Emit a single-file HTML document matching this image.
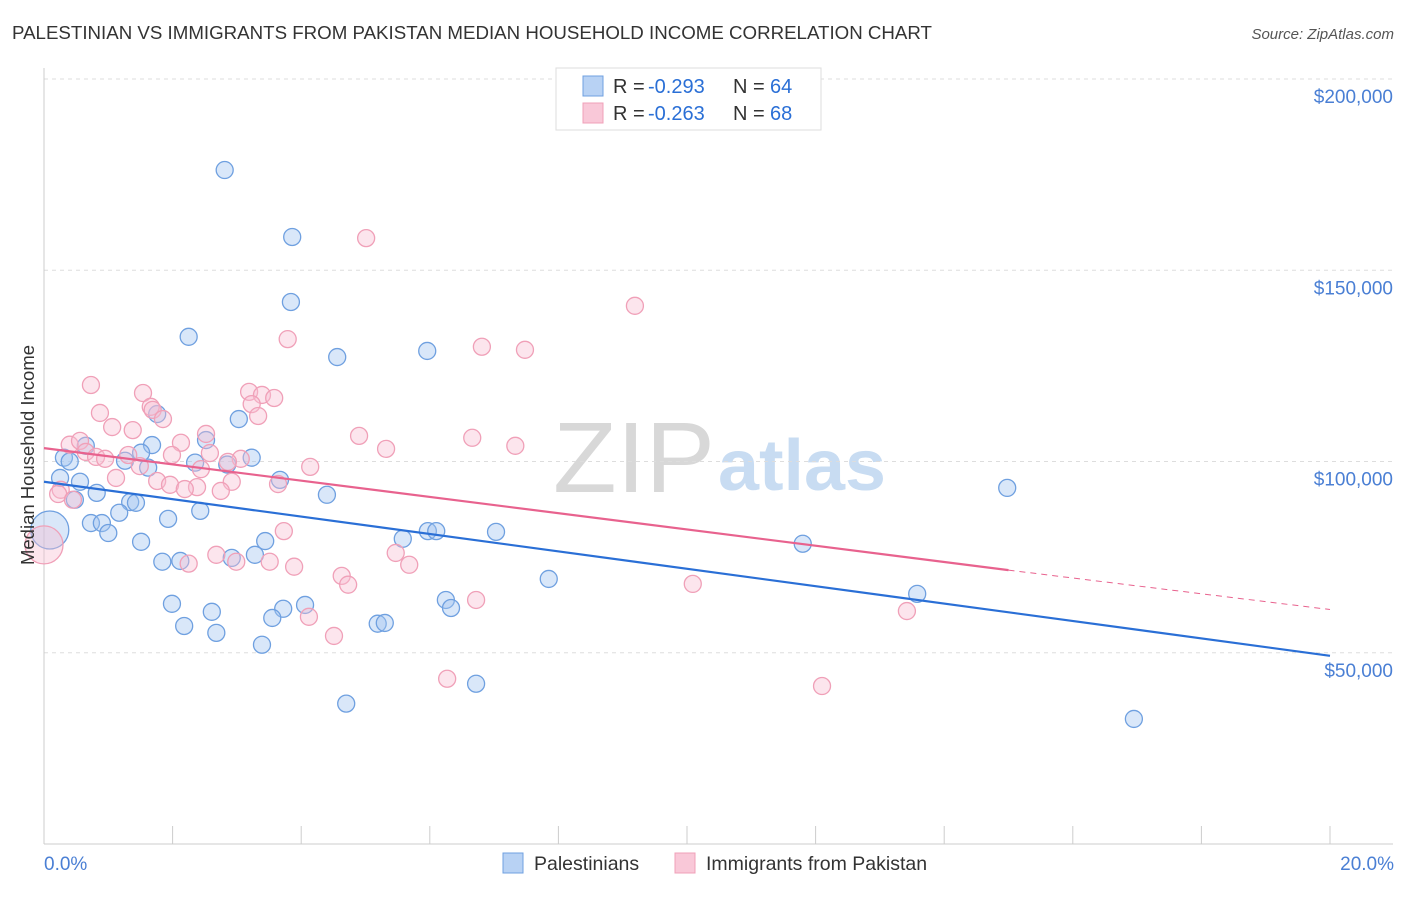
<!DOCTYPE html>
<html><head><meta charset="utf-8"><style>
body{margin:0;background:#fff;font-family:"Liberation Sans",sans-serif}
svg text{font-family:"Liberation Sans",sans-serif}
</style></head><body>
<svg id="chart" width="1406" height="892" viewBox="0 0 1406 892">
<text x="12" y="39" font-size="18.7" fill="#333" textLength="920" lengthAdjust="spacingAndGlyphs">PALESTINIAN VS IMMIGRANTS FROM PAKISTAN MEDIAN HOUSEHOLD INCOME CORRELATION CHART</text>
<text x="1394" y="39" font-size="15" fill="#555" text-anchor="end" font-style="italic">Source: ZipAtlas.com</text>
<g>
<text x="553" y="492" font-size="100" fill="#d8d8d8" font-family="Liberation Serif,serif" textLength="162" lengthAdjust="spacingAndGlyphs">ZIP</text>
<text x="718" y="490" font-size="72" fill="#c8dcf2" font-weight="bold" textLength="168" lengthAdjust="spacingAndGlyphs">atlas</text>
</g>
<g id="grid"></g><g id="axes"></g><g id="pts"></g><g id="lines"></g>
<text transform="translate(34,455) rotate(-90)" font-size="18.5" fill="#333" text-anchor="middle">Median Household Income</text>
<text x="44" y="870" font-size="19" fill="#4a7fd4">0.0%</text>
<text x="1394" y="870" font-size="19" fill="#4a7fd4" text-anchor="end">20.0%</text>
<g>
<rect x="556" y="68" width="265" height="62" fill="#fff" stroke="#ddd"/>
<rect x="583" y="76" width="20" height="20" fill="#b8d2f4" stroke="#6fa0e0"/>
<rect x="583" y="103" width="20" height="20" fill="#f9c8d8" stroke="#f0a0b8"/>
<text x="613" y="93" font-size="20" fill="#333">R = </text><text x="648" y="93" font-size="20" fill="#2a6fd6">-0.293</text>
<text x="733" y="93" font-size="20" fill="#333">N = </text><text x="770" y="93" font-size="20" fill="#2a6fd6">64</text>
<text x="613" y="120" font-size="20" fill="#333">R = </text><text x="648" y="120" font-size="20" fill="#2a6fd6">-0.263</text>
<text x="733" y="120" font-size="20" fill="#333">N = </text><text x="770" y="120" font-size="20" fill="#2a6fd6">68</text>
</g>
<g>
<rect x="503" y="853" width="20" height="20" fill="#b8d2f4" stroke="#6fa0e0"/>
<text x="534" y="870" font-size="19.5" fill="#333">Palestinians</text>
<rect x="675" y="853" width="20" height="20" fill="#f9c8d8" stroke="#f0a0b8"/>
<text x="706" y="870" font-size="19.5" fill="#333">Immigrants from Pakistan</text>
</g>
</svg>
<script>
const yTicks=[50000,100000,150000,200000];
const yTickLabels=["$50,000","$100,000","$150,000","$200,000"];
const bluePct=[2.81,3.86,3.84,2.25,4.56,5.96,1.76,3.03,1.68,2.52,0.65,1.51,3.23,0.31,0.40,2.35,2.85,1.62,1.26,0.25,0.56,3.67,0.82,4.40,0.48,1.34,1.43,1.17,2.43,1.93,0.73,0.90,1.00,5.97,6.10,7.03,5.58,1.51,3.44,3.28,2.92,1.84,2.12,7.85,11.8,14.98,13.58,16.95,1.99,2.61,2.18,2.68,3.72,3.55,4.06,6.25,6.33,5.19,5.30,3.39,6.72,4.70,0.09];
const blueInc=[176.2,158.7,141.7,132.6,127.3,128.9,112.4,111.1,104.3,105.6,104.1,102.3,101.0,101.0,100.0,99.7,99.2,98.4,100.2,95.7,94.7,95.2,91.8,91.3,90.0,89.4,89.2,86.6,87.1,85.0,83.9,83.9,81.3,81.8,81.8,81.6,79.8,79.0,79.2,75.6,74.8,73.8,74.0,69.3,78.5,93.1,65.4,32.7,62.8,60.7,57.0,55.2,61.5,59.1,62.5,63.8,61.7,57.6,57.8,52.1,41.9,36.7,82.1];
const pinkPct=[5.01,9.19,3.79,6.81,7.48,0.73,1.54,3.19,3.39,3.58,3.23,1.66,1.69,0.87,3.33,1.85,1.06,1.38,2.52,4.90,6.66,2.13,7.33,0.40,0.56,5.32,0.65,2.58,1.99,1.31,0.81,0.95,3.06,2.86,1.49,4.14,2.44,1.12,1.76,2.92,3.64,1.96,2.38,2.19,2.75,0.26,0.22,0.45,3.73,5.47,2.68,2.99,3.51,2.25,5.68,3.89,4.63,4.73,10.09,4.12,6.72,13.42,4.51,6.27,12.10,0.0];
const pinkInc=[158.4,140.7,132.0,130.0,129.2,120.0,117.9,118.2,117.4,116.6,115.0,114.3,113.5,112.7,111.9,111.1,109.0,108.2,107.2,106.7,106.2,104.9,104.1,104.4,105.4,103.3,102.5,102.2,101.7,101.7,101.2,100.7,100.7,99.9,98.8,98.6,98.0,95.7,94.9,94.7,94.1,93.9,93.3,92.8,92.3,92.6,91.5,90.0,81.8,76.1,75.6,73.8,73.8,73.3,73.0,72.5,70.1,67.8,68.0,59.4,63.8,60.9,54.4,43.2,41.3,78.2];
const blueTrend=[94.7,49.2];
const pinkTrend=[103.5,71.6,61.3];
const X=p=>44+p/20*1286;
const Y=v=>844-v/200000*765;
const NS="http://www.w3.org/2000/svg";
function mk(tag,at,parent){const e=document.createElementNS(NS,tag);for(const k in at)e.setAttribute(k,at[k]);document.getElementById(parent).appendChild(e);return e;}
yTicks.forEach((t,i)=>{
 const g=mk('line',{x1:44,x2:1393,y1:Y(t),y2:Y(t),stroke:'#ddd','stroke-dasharray':'4,4'},'grid');
 
 
 const l=mk('text',{x:1393,y:Y(t)+24,'font-size':19,fill:'#4a7fd4','text-anchor':'end'},'grid');
 l.textContent=yTickLabels[i];
 
 
});
const ax=mk('line',{x1:44,x2:44,y1:68,y2:844,stroke:'#ccc'},'axes');


const bx=mk('line',{x1:44,x2:1393,y1:844,y2:844,stroke:'#ccc'},'axes');


for(let i=1;i<=10;i++){
 const t=mk('line',{x1:X(i*2),x2:X(i*2),y1:826,y2:844,stroke:'#ccc'},'axes');
 
 
}
function pts(pc,inc,fill,stroke,name){
 pc.forEach((p,i)=>{
  const big=(p<0.1);
  const c=mk('circle',{cx:X(p),cy:Y(inc[i]*1000),r:big?19:8.5,fill:fill,stroke:stroke,'stroke-width':1.3},'pts');
  
  
 });
}
pts(bluePct,blueInc,'rgba(160,196,240,0.4)','#6fa0e0','palestinian-point');
pts(pinkPct,pinkInc,'rgba(248,190,210,0.4)','#f0a0b8','pakistan-point');
const bl=mk('line',{x1:X(0),y1:Y(blueTrend[0]*1000),x2:X(20),y2:Y(blueTrend[1]*1000),stroke:'#2a6fd6','stroke-width':2.2},'lines');


const pl=mk('line',{x1:X(0),y1:Y(pinkTrend[0]*1000),x2:X(15),y2:Y(pinkTrend[1]*1000),stroke:'#e8628e','stroke-width':2.2},'lines');


const pd=mk('line',{x1:X(15),y1:Y(pinkTrend[1]*1000),x2:X(20),y2:Y(pinkTrend[2]*1000),stroke:'#e8628e','stroke-width':1,'stroke-dasharray':'6,5'},'lines');


</script>
</body></html>
